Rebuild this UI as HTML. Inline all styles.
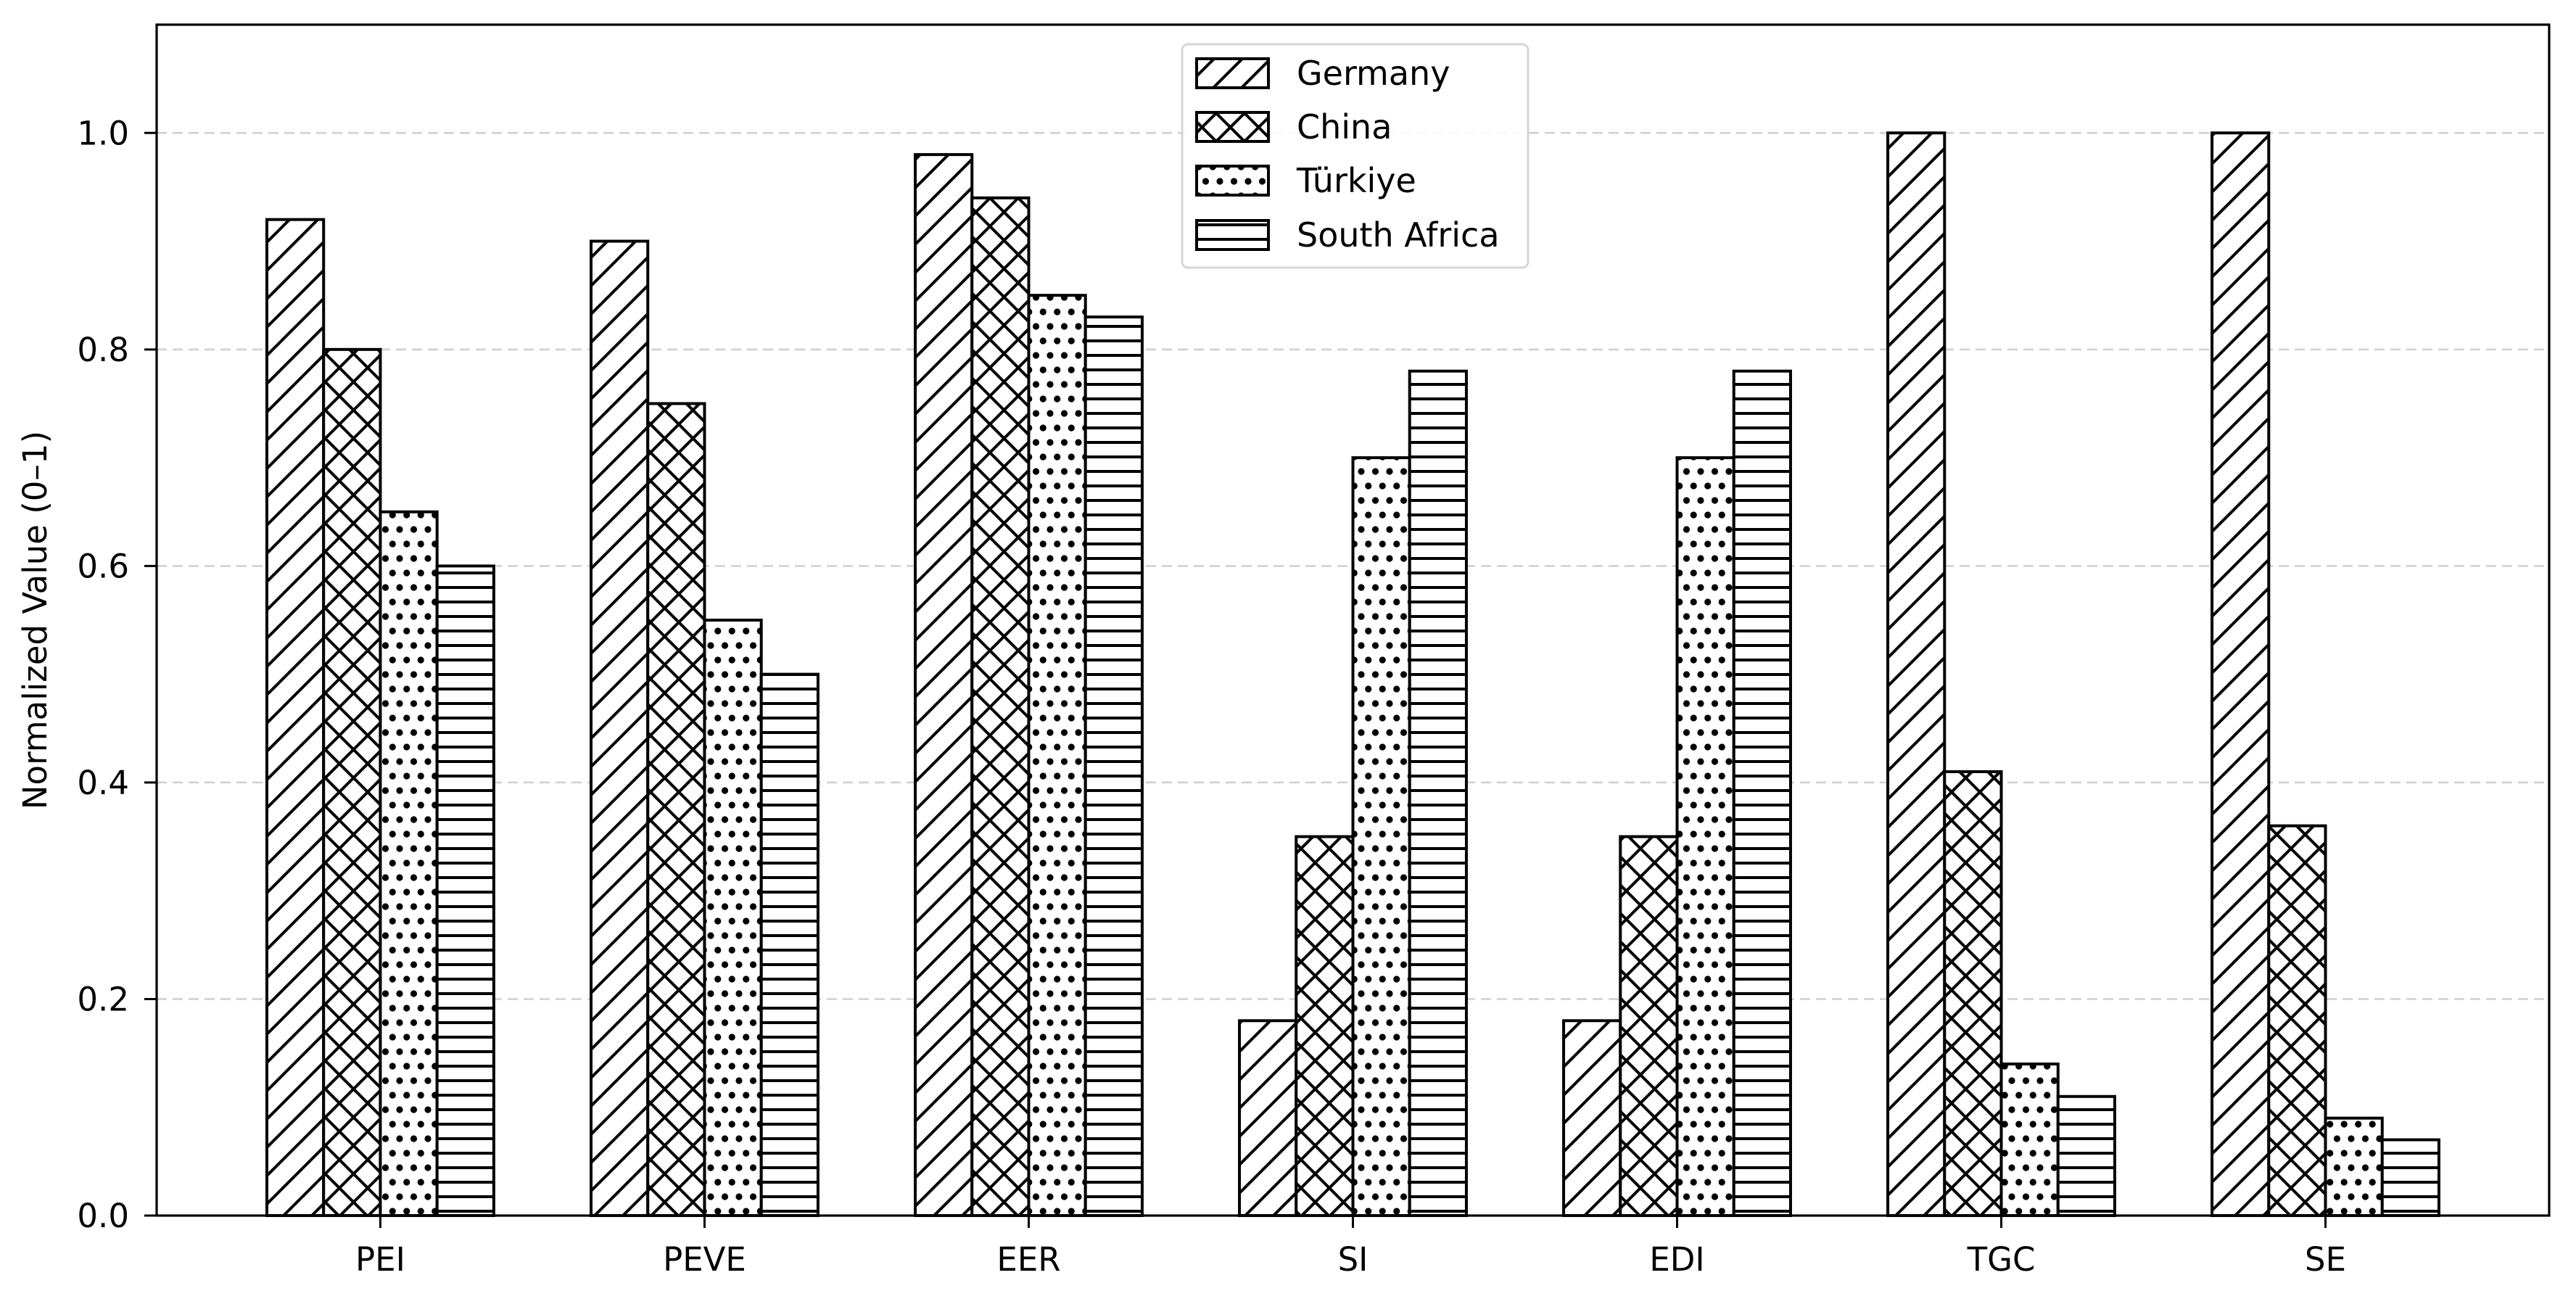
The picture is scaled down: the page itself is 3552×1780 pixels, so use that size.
<!DOCTYPE html>
<html><head><meta charset="utf-8">
<style>
html,body{margin:0;padding:0;background:#fff;}
svg{display:block;font-family:"DejaVu Sans","Liberation Sans",sans-serif;}
</style></head>
<body>
<svg id="chart" width="3552" height="1780" viewBox="0 0 3552 1780" xmlns="http://www.w3.org/2000/svg">
<defs>
<pattern id="h-diag" patternUnits="userSpaceOnUse" width="39" height="39">
<rect width="39" height="39" fill="#fff"/>
<path d="M-5,44 L44,-5 M-5,5 L5,-5 M34,44 L44,34" stroke="#000" stroke-width="4"/>
</pattern>
<pattern id="h-cross" patternUnits="userSpaceOnUse" width="39" height="39">
<rect width="39" height="39" fill="#fff"/>
<path d="M-5,44 L44,-5 M-5,5 L5,-5 M34,44 L44,34 M-5,-5 L44,44 M34,-5 L44,5 M-5,34 L5,44" stroke="#000" stroke-width="4"/>
</pattern>
<pattern id="h-dots" patternUnits="userSpaceOnUse" width="19.5" height="40">
<rect width="19.5" height="40" fill="#fff"/>
<circle cx="5" cy="10" r="4.6" fill="#000"/>
<circle cx="14.75" cy="30" r="4.6" fill="#000"/>
</pattern>
<pattern id="h-horiz" patternUnits="userSpaceOnUse" width="40" height="20">
<rect width="40" height="20" fill="#fff"/>
<rect x="0" y="8" width="40" height="4" fill="#000"/>
</pattern>
</defs>
<g id="grid"></g>
<g id="bars"></g>
<g id="axes"></g>
<g id="legend"></g>
</svg>
<script>
const categories = ["PEI","PEVE","EER","SI","EDI","TGC","SE"];
const seriesNames = ["Germany","China","Türkiye","South Africa"];
const germany = [0.92,0.90,0.98,0.18,0.18,1.00,1.00];
const china = [0.80,0.75,0.94,0.35,0.35,0.41,0.36];
const turkiye = [0.65,0.55,0.85,0.70,0.70,0.14,0.09];
const southAfrica = [0.60,0.50,0.83,0.78,0.78,0.11,0.07];
const yTicks = [0.0,0.2,0.4,0.6,0.8,1.0];
const yTickLabels = ["0.0","0.2","0.4","0.6","0.8","1.0"];

const NS = "http://www.w3.org/2000/svg";
const L = 216, R = 3515, T = 34, B = 1676;
const xMin = -0.69, xMax = 6.69, yMin = 0, yMax = 1.1;
function xScale(v){ return L + (v - xMin) / (xMax - xMin) * (R - L); }
function yScale(v){ return B - (v - yMin) / (yMax - yMin) * (B - T); }
function mk(tag, attrs, parent){
  const e = document.createElementNS(NS, tag);
  for (const k in attrs) e.setAttribute(k, attrs[k]);
  parent.appendChild(e);
  return e;
}
const gGrid = document.getElementById('grid');
const gBars = document.getElementById('bars');
const gAxes = document.getElementById('axes');
const gLeg = document.getElementById('legend');

yTicks.forEach((t, i) => {
  if (t === 0) return;
  const ln = mk('line', {x1:L, x2:R, y1:yScale(t), y2:yScale(t), stroke:'#cfcfcf', 'stroke-width':2.5, 'stroke-dasharray':'14,8'}, gGrid);
  
  
});

const allSeries = [germany, china, turkiye, southAfrica];
const fills = ['url(#h-diag)','url(#h-cross)','url(#h-dots)','url(#h-horiz)'];
const barW = 0.175;
allSeries.forEach((vals, s) => {
  vals.forEach((v, c) => {
    const cx = c + (s - 1.5) * barW;
    const x0 = xScale(cx - barW/2), x1 = xScale(cx + barW/2);
    const r = mk('rect', {x:x0, y:yScale(v), width:x1-x0, height:yScale(0)-yScale(v), fill:fills[s], stroke:'#000', 'stroke-width':4}, gBars);
    
    
  });
});

const frame = mk('rect', {x:L, y:T, width:R-L, height:B-T, fill:'none', stroke:'#000', 'stroke-width':3.2}, gAxes);



yTicks.forEach((t, i) => {
  const y = yScale(t);
  const tk = mk('line', {x1:L-17, x2:L, y1:y, y2:y, stroke:'#000', 'stroke-width':3}, gAxes);
  
  
  const tx = mk('text', {x:L-38, y:y+16, 'text-anchor':'end', 'font-size':45, fill:'#000'}, gAxes);
  tx.textContent = yTickLabels[i];
  
  
});

categories.forEach((c, i) => {
  const x = xScale(i);
  const tk = mk('line', {x1:x, x2:x, y1:B, y2:B+17, stroke:'#000', 'stroke-width':3}, gAxes);
  
  
  const tx = mk('text', {x:x, y:1752, 'text-anchor':'middle', 'font-size':45, fill:'#000'}, gAxes);
  tx.textContent = c;
  
  
});

const yt = mk('text', {x:0, y:0, 'text-anchor':'middle', 'font-size':45, fill:'#000', transform:'translate(64,' + ((T+B)/2) + ') rotate(-90)'}, gAxes);
yt.textContent = 'Normalized Value (0–1)';



const lb = mk('rect', {x:1630, y:61, width:477, height:308, rx:8, fill:'#fff', 'fill-opacity':0.85, stroke:'#d6d6d6', 'stroke-width':3}, gLeg);


const rowY = [101, 175, 249, 324];
seriesNames.forEach((n, i) => {
  const g = mk('g', {}, gLeg);
  
  
  mk('rect', {x:1650, y:rowY[i]-20, width:99, height:40, fill:fills[i], stroke:'#000', 'stroke-width':4}, g);
  const t = mk('text', {x:1788, y:rowY[i]+16, 'font-size':46, fill:'#000'}, g);
  t.textContent = n;
});
</script>
</body></html>
